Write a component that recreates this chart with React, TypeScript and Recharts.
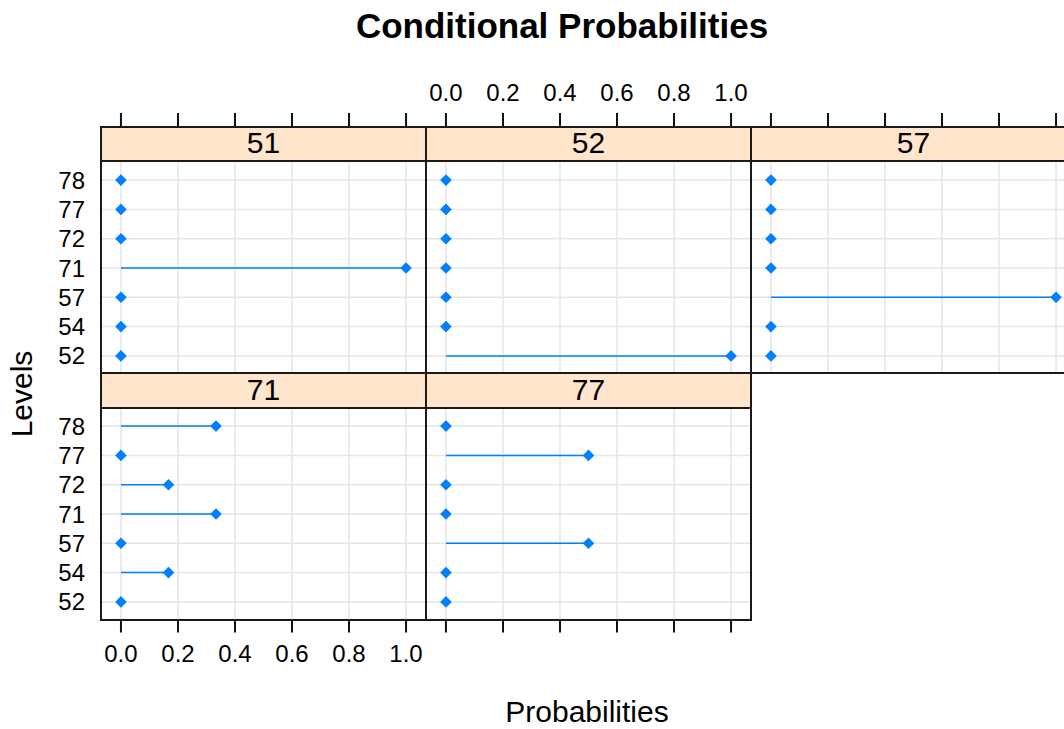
import React from 'react';
import { ScatterChart, Scatter, XAxis, YAxis, CartesianGrid, ReferenceLine } from 'recharts';

// levels on the y axis, bottom to top
const levels = ['52', '54', '57', '71', '72', '77', '78'];
const panelNames = ['51', '52', '57', '71', '77'];

// conditional probabilities per panel, in the order of `levels`
const p51 = [0, 0, 0, 1, 0, 0, 0];
const p52 = [1, 0, 0, 0, 0, 0, 0];
const p57 = [0, 0, 1, 0, 0, 0, 0];
const p71 = [0, 0.1667, 0, 0.3333, 0.1667, 0, 0.3333];
const p77 = [0, 0, 0.5, 0, 0, 0.5, 0];

const xTicks = [0, 0.2, 0.4, 0.6, 0.8, 1];
const xTickLabels = ['0.0', '0.2', '0.4', '0.6', '0.8', '1.0'];

const FONT = '"Liberation Sans", Arial, sans-serif';
const BLUE = '#0080ff';
const PW = 325; // panel width
const PH = 211; // plot height
const SH = 35.5; // strip height
const AH = 47; // axis area height
const YW = 50; // y label width
const LEFT0 = 101;
const ROW0_STRIP = 126.5;
const ROW1_STRIP = ROW0_STRIP + SH + PH;
const yUnit = PH / 7.2;
const yMax = 7.6 + SH / yUnit;

const Diamond = (props: any) => {
  const { cx, cy } = props;
  if (cx == null || cy == null) return null;
  const r = 5.8;
  return <polygon points={`${cx},${cy - r} ${cx + r},${cy} ${cx},${cy + r} ${cx - r},${cy}`} fill={BLUE} />;
};

type PanelProps = {
  name: string;
  values: number[];
  col: number;
  row: number;
  axisLabels: boolean;
};

const Panel = ({ name, values, col, row, axisLabels }: PanelProps) => {
  const data = values.map((v, i) => ({ x: v, y: i + 1, level: levels[i] }));
  const left = LEFT0 + col * PW;
  const stripTop = row === 0 ? ROW0_STRIP : ROW1_STRIP;
  const withY = col === 0;
  const chartLeft = withY ? left - YW : left;
  const chartTop = row === 0 ? stripTop - AH : stripTop;
  const chartW = PW + (withY ? YW : 0);
  const chartH = AH + SH + PH;

  return (
    <>
      <div style={{ position: 'absolute', left: chartLeft, top: chartTop }}>
        <ScatterChart width={chartW} height={chartH} margin={{ top: 0, right: 0, bottom: 0, left: 0 }}>
          <CartesianGrid stroke="#e5e5e5" strokeWidth={1.5} />
          <XAxis
            type="number"
            dataKey="x"
            orientation={row === 0 ? 'top' : 'bottom'}
            height={AH}
            domain={[-0.07, 1.07]}
            ticks={xTicks}
            interval={0}
            axisLine={false}
            tickLine={{ stroke: '#111', strokeWidth: 2 }}
            tickSize={row === 0 ? 14 : 13}
            tickMargin={12}
            tick={{ fontSize: 24, fill: '#000', fontFamily: FONT }}
            tickFormatter={(v: number) => (axisLabels ? xTickLabels[xTicks.indexOf(v)] : '')}
          />
          <YAxis
            type="number"
            dataKey="y"
            domain={[0.4, yMax]}
            ticks={[1, 2, 3, 4, 5, 6, 7]}
            interval={0}
            width={YW}
            hide={!withY}
            axisLine={false}
            tickLine={false}
            tickSize={0}
            tickMargin={16}
            tick={{ fontSize: 24, fill: '#000', fontFamily: FONT }}
            tickFormatter={(v: number) => levels[v - 1] ?? ''}
          />
          {data
            .filter((d) => d.x > 0)
            .map((d) => (
              <ReferenceLine
                key={d.level}
                segment={[{ x: 0, y: d.y }, { x: d.x, y: d.y }]}
                stroke={BLUE}
                strokeWidth={1.5}
              />
            ))}
          <Scatter data={data} shape={Diamond} isAnimationActive={false} />
        </ScatterChart>
      </div>
      <div
        style={{
          position: 'absolute',
          left,
          top: stripTop,
          width: PW,
          height: SH,
          background: '#ffe5cc',
          borderBottom: '2px solid #1a1a1a',
          boxSizing: 'border-box',
          display: 'flex',
          alignItems: 'center',
          justifyContent: 'center',
          fontSize: 30,
          fontFamily: FONT,
          color: '#000',
        }}
      >
        {name}
      </div>
      <div
        style={{
          position: 'absolute',
          left: left - 1,
          top: stripTop - 1,
          width: PW + 2,
          height: SH + PH + 2,
          border: '2px solid #1a1a1a',
          boxSizing: 'border-box',
          pointerEvents: 'none',
        }}
      />
    </>
  );
};

const panelValues = [p51, p52, p57, p71, p77];
const panelCols = [0, 1, 2, 0, 1];
const panelRows = [0, 0, 0, 1, 1];
const panelAxisLabels = [false, true, false, true, false];

export default function App() {
  return (
    <div
      style={{
        position: 'absolute',
        left: 0,
        top: 0,
        width: 1064,
        height: 729,
        overflow: 'hidden',
        background: '#fff',
        fontFamily: FONT,
      }}
    >
      <div
        style={{
          position: 'absolute',
          left: 562,
          top: 25.5,
          transform: 'translate(-50%, -50%)',
          fontSize: 35,
          fontWeight: 'bold',
          whiteSpace: 'nowrap',
        }}
      >
        Conditional Probabilities
      </div>
      {panelNames.map((n, i) => (
        <Panel
          key={n}
          name={n}
          values={panelValues[i]}
          col={panelCols[i]}
          row={panelRows[i]}
          axisLabels={panelAxisLabels[i]}
        />
      ))}
      <div
        style={{
          position: 'absolute',
          left: 22,
          top: 394,
          transform: 'translate(-50%, -50%) rotate(-90deg)',
          fontSize: 30,
          whiteSpace: 'nowrap',
        }}
      >
        Levels
      </div>
      <div
        style={{
          position: 'absolute',
          left: 587,
          top: 711.5,
          transform: 'translate(-50%, -50%)',
          fontSize: 30,
          whiteSpace: 'nowrap',
        }}
      >
        Probabilities
      </div>
    </div>
  );
}
